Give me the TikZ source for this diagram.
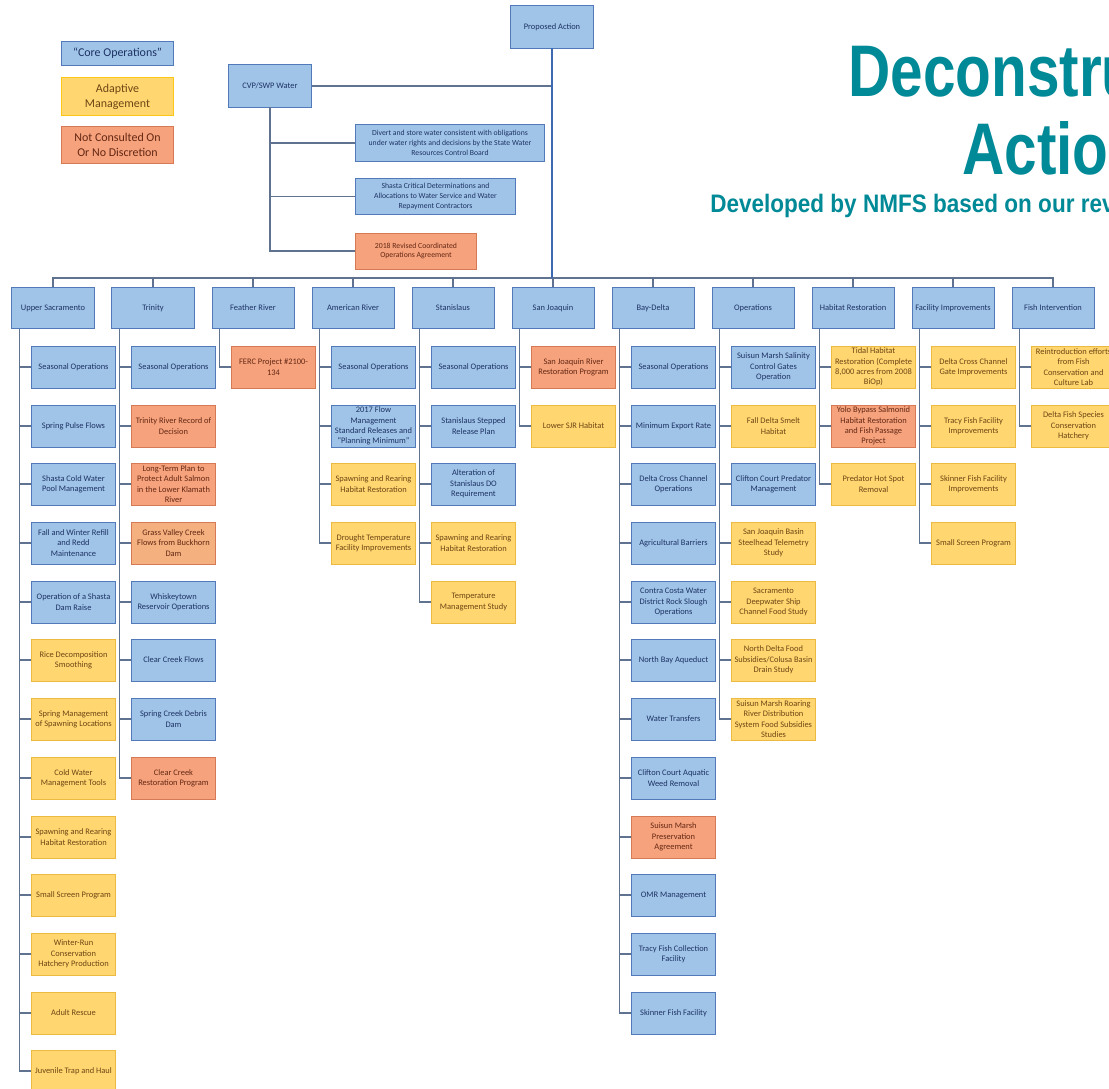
\documentclass[tikz,border=0pt]{standalone}
\usepackage{fontspec}
\setmainfont{Carlito}
\newfontfamily\titlefont[FakeStretch=0.8]{Liberation Sans}
\newfontfamily\subtitlefont[FakeStretch=0.89]{Liberation Sans}
\usepackage{tikz}
\usetikzlibrary{calc, positioning}

\definecolor{coreblue}{RGB}{160,196,232}
\definecolor{coreline}{RGB}{82,122,186}
\definecolor{coretext}{RGB}{30,50,100}
\definecolor{adaptyellow}{RGB}{255,214,112}
\definecolor{adaptline}{RGB}{236,186,64}
\definecolor{adapttext}{RGB}{110,70,20}
\definecolor{notcorange}{RGB}{246,162,124}
\definecolor{notcline}{RGB}{214,122,86}
\definecolor{notctext}{RGB}{100,40,20}
\definecolor{grasstan}{RGB}{244,176,126}
\definecolor{linkgray}{RGB}{95,115,145}
\definecolor{trunkblue}{RGB}{60,105,175}
\definecolor{titleteal}{RGB}{0,137,150}

\begin{document}
\begin{tikzpicture}[x=0.025cm, y=-0.025cm,
        box/.style={rectangle, draw, line width=0.7pt, minimum width=2.08cm, minimum height=1.05cm, inner sep=1pt, align=center, font=\fontsize{6}{7.3}\selectfont},
        core/.style={box, fill=coreblue, draw=coreline, text=coretext},
        adapt/.style={box, fill=adaptyellow, draw=adaptline, text=adapttext},
        notc/.style={box, fill=notcorange, draw=notcline, text=notctext},
        hdr/.style={core, minimum width=2.05cm, minimum height=1.03cm},
        legend/.style={minimum width=2.78cm, font=\fontsize{8.5}{10.5}\selectfont},
        wide/.style={minimum height=0.9cm, font=\fontsize{5.5}{7}\selectfont},
        title/.style={inner sep=0pt, text=titleteal, font=\titlefont\bfseries\fontsize{52}{52}\selectfont},
        link/.style={draw=linkgray, line width=0.8pt},
        trunk/.style={draw=trunkblue, line width=1.8pt}
    ]
        \path[use as bounding box, fill=white] (0,0) rectangle (1109,1089);

        % Title
        \node[title, anchor=base west] (title1) at (848,97) {Deconstru};
        \node[title, anchor=base west] (title2) at (962,175) {Actio};
        \node[title, anchor=base west, font=\subtitlefont\bfseries\fontsize{18}{18}\selectfont] (subtitle) at (710,213) {Developed by NMFS based on our rev};

        % Legend
        \node[core, legend, minimum height=0.58cm] (leg_core) at (117.5,53.5) {``Core Operations''};
        \node[adapt, legend, minimum height=0.93cm, draw={rgb,255:red,250;green,200;blue,20}] (leg_adapt) at (117.5,96.5) {Adaptive\\Management};
        \node[notc, legend, minimum height=0.9cm] (leg_notc) at (117.5,145) {Not Consulted On\\Or No Discretion};

        % Proposed Action and CVP/SWP Water
        \node[core] (pa) at (552,27) {Proposed Action};
        \coordinate (bus) at (552,278);
        \node[core] (cvp) at (270,86) {CVP/SWP Water};
        \node[core, wide, minimum width=4.7cm] (divert) at (450,143) {Divert and store water consistent with obligations\\under water rights and decisions by the State Water\\Resources Control Board};
        \node[core, wide, minimum width=3.98cm] (shasta) at (435.5,196.5) {Shasta Critical Determinations and\\Allocations to Water Service and Water\\Repayment Contractors};
        \node[notc, wide, minimum width=3cm] (coa) at (416,251) {2018 Revised Coordinated\\Operations Agreement};

        % Headers
        \node[hdr] (us) at (53,308) {Upper Sacramento};
        \node[hdr] (tr) at (153,308) {Trinity};
        \node[hdr] (fr) at (253,308) {Feather River};
        \node[hdr] (am) at (353,308) {American River};
        \node[hdr] (st) at (453,308) {Stanislaus};
        \node[hdr] (sj) at (553,308) {San Joaquin};
        \node[hdr] (bd) at (653,308) {Bay-Delta};
        \node[hdr] (op) at (753,308) {Operations};
        \node[hdr] (hr) at (853,308) {Habitat Restoration};
        \node[hdr] (fi) at (953,308) {Facility Improvements};
        \node[hdr] (fx) at (1053,308) {Fish Intervention};

        % Upper Sacramento
        \node[core] (us1) at (73.5,367) {Seasonal Operations};
        \node[core] (us2) at (73.5,426) {Spring Pulse Flows};
        \node[core] (us3) at (73.5,484) {Shasta Cold Water\\Pool Management};
        \node[core] (us4) at (73.5,543) {Fall and Winter Refill\\and Redd\\Maintenance};
        \node[core] (us5) at (73.5,602) {Operation of a Shasta\\Dam Raise};
        \node[adapt] (us6) at (73.5,660) {Rice Decomposition\\Smoothing};
        \node[adapt] (us7) at (73.5,719) {Spring Management\\of Spawning Locations};
        \node[adapt] (us8) at (73.5,778) {Cold Water\\Management Tools};
        \node[adapt] (us9) at (73.5,837) {Spawning and Rearing\\Habitat Restoration};
        \node[adapt] (us10) at (73.5,895) {Small Screen Program};
        \node[adapt] (us11) at (73.5,954) {Winter-Run\\Conservation\\Hatchery Production};
        \node[adapt] (us12) at (73.5,1013) {Adult Rescue};
        \node[adapt] (us13) at (73.5,1071) {Juvenile Trap and Haul};

        % Trinity
        \node[core] (tr1) at (173.5,367) {Seasonal Operations};
        \node[notc] (tr2) at (173.5,426) {Trinity River Record of\\Decision};
        \node[notc] (tr3) at (173.5,484) {Long-Term Plan to\\Protect Adult Salmon\\in the Lower Klamath\\River};
        \node[notc, fill=grasstan] (tr4) at (173.5,543) {Grass Valley Creek\\Flows from Buckhorn\\Dam};
        \node[core] (tr5) at (173.5,602) {Whiskeytown\\Reservoir Operations};
        \node[core] (tr6) at (173.5,660) {Clear Creek Flows};
        \node[core] (tr7) at (173.5,719) {Spring Creek Debris\\Dam};
        \node[notc] (tr8) at (173.5,778) {Clear Creek\\Restoration Program};

        % Feather River
        \node[notc] (fr1) at (273.5,367) {FERC Project \#2100-\\134};

        % American River
        \node[core] (am1) at (373.5,367) {Seasonal Operations};
        \node[core] (am2) at (373.5,426) {2017 Flow\\Management\\Standard Releases and\\``Planning Minimum''};
        \node[adapt] (am3) at (373.5,484) {Spawning and Rearing\\Habitat Restoration};
        \node[adapt] (am4) at (373.5,543) {Drought Temperature\\Facility Improvements};

        % Stanislaus
        \node[core] (st1) at (473.5,367) {Seasonal Operations};
        \node[core] (st2) at (473.5,426) {Stanislaus Stepped\\Release Plan};
        \node[core] (st3) at (473.5,484) {Alteration of\\Stanislaus DO\\Requirement};
        \node[adapt] (st4) at (473.5,543) {Spawning and Rearing\\Habitat Restoration};
        \node[adapt] (st5) at (473.5,602) {Temperature\\Management Study};

        % San Joaquin
        \node[notc] (sj1) at (573.5,367) {San Joaquin River\\Restoration Program};
        \node[adapt] (sj2) at (573.5,426) {Lower SJR Habitat};

        % Bay-Delta
        \node[core] (bd1) at (673.5,367) {Seasonal Operations};
        \node[core] (bd2) at (673.5,426) {Minimum Export Rate};
        \node[core] (bd3) at (673.5,484) {Delta Cross Channel\\Operations};
        \node[core] (bd4) at (673.5,543) {Agricultural Barriers};
        \node[core] (bd5) at (673.5,602) {Contra Costa Water\\District Rock Slough\\Operations};
        \node[core] (bd6) at (673.5,660) {North Bay Aqueduct};
        \node[core] (bd7) at (673.5,719) {Water Transfers};
        \node[core] (bd8) at (673.5,778) {Clifton Court Aquatic\\Weed Removal};
        \node[notc] (bd9) at (673.5,837) {Suisun Marsh\\Preservation\\Agreement};
        \node[core] (bd10) at (673.5,895) {OMR Management};
        \node[core] (bd11) at (673.5,954) {Tracy Fish Collection\\Facility};
        \node[core] (bd12) at (673.5,1013) {Skinner Fish Facility};

        % Operations
        \node[core] (op1) at (773.5,367) {Suisun Marsh Salinity\\Control Gates\\Operation};
        \node[adapt] (op2) at (773.5,426) {Fall Delta Smelt\\Habitat};
        \node[core] (op3) at (773.5,484) {Clifton Court Predator\\Management};
        \node[adapt] (op4) at (773.5,543) {San Joaquin Basin\\Steelhead Telemetry\\Study};
        \node[adapt] (op5) at (773.5,602) {Sacramento\\Deepwater Ship\\Channel Food Study};
        \node[adapt] (op6) at (773.5,660) {North Delta Food\\Subsidies/Colusa Basin\\Drain Study};
        \node[adapt] (op7) at (773.5,719) {Suisun Marsh Roaring\\River Distribution\\System Food Subsidies\\Studies};

        % Habitat Restoration
        \node[adapt] (hr1) at (873.5,367) {Tidal Habitat\\Restoration (Complete\\8,000 acres from 2008\\BiOp)};
        \node[notc] (hr2) at (873.5,426) {Yolo Bypass Salmonid\\Habitat Restoration\\and Fish Passage\\Project};
        \node[adapt] (hr3) at (873.5,484) {Predator Hot Spot\\Removal};

        % Facility Improvements
        \node[adapt] (fi1) at (973.5,367) {Delta Cross Channel\\Gate Improvements};
        \node[adapt] (fi2) at (973.5,426) {Tracy Fish Facility\\Improvements};
        \node[adapt] (fi3) at (973.5,484) {Skinner Fish Facility\\Improvements};
        \node[adapt] (fi4) at (973.5,543) {Small Screen Program};

        % Fish Intervention
        \node[adapt] (fx1) at (1073.5,367) {Reintroduction efforts\\from Fish\\Conservation and\\Culture Lab};
        \node[adapt] (fx2) at (1073.5,426) {Delta Fish Species\\Conservation\\Hatchery};

        % Lines
        \draw[link] (cvp.east) -- (cvp.east -| pa.south);
        \draw[link] (cvp.south) |- (divert.west);
        \draw[link] (cvp.south) |- (shasta.west);
        \draw[link] (cvp.south) |- (coa.west);
        \foreach \h in {us,tr,fr,am,st,sj,bd,op,hr,fi,fx}
            \draw[link] (bus) -| (\h.north);
        \draw[trunk] (pa.south) -- (bus);
        \foreach \h/\n in {us/13,tr/8,fr/1,am/4,st/5,sj/2,bd/12,op/7,hr/3,fi/4,fx/2}
            \foreach \i in {1,...,\n}
                \draw[link] ([xshift=0.2cm]\h.south west) |- (\h\i.west);
    \end{tikzpicture}
\end{document}
